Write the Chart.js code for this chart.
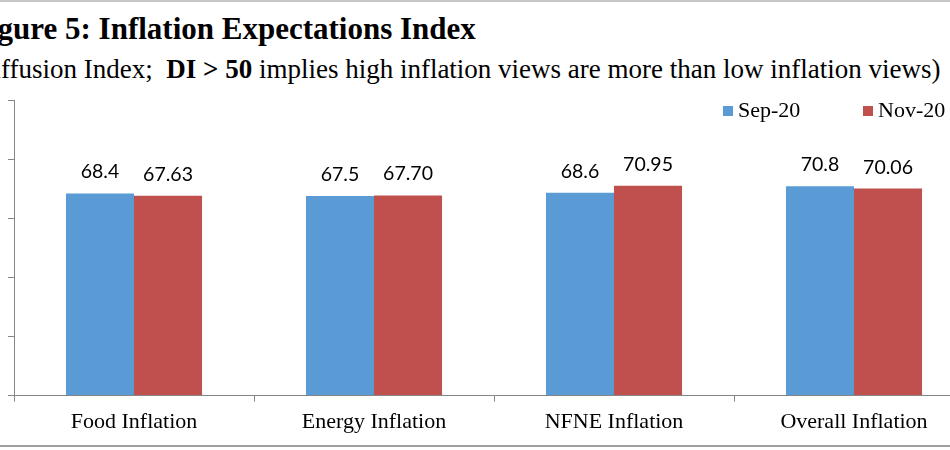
<!DOCTYPE html>
<html>
<head>
<meta charset="utf-8">
<script src="https://cdn.jsdelivr.net/npm/chart.js@4.4.1/dist/chart.umd.min.js"></script>
<style>
    html, body { margin: 0; padding: 0; background: #fff; overflow: hidden; }
    #wrap { position: relative; width: 950px; height: 450px; overflow: hidden; font-family: "Liberation Serif", serif; color: #000; }
    #topLine { position: absolute; left: 0; top: 0; width: 950px; height: 2px; background: #c8c8c8; }
    #bottomLine { position: absolute; left: 0; top: 445px; width: 950px; height: 2px; background: #a0a0a0; }
    #title { position: absolute; left: -30px; top: 11px; font-size: 31px; line-height: 36px; font-weight: bold; white-space: nowrap; }
    #subtitle { position: absolute; left: -35px; top: 53px; font-size: 27px; line-height: 32px; white-space: pre; }
    #holder { position: absolute; left: -30px; top: 3px; width: 1010px; height: 439px; }
</style>
</head>
<body>
<div id="wrap">
    <div id="topLine"></div>
    <div id="title">Figure 5: Inflation Expectations Index</div>
    <div id="subtitle">(Diffusion Index;  <b>DI &gt; 50</b> implies high inflation views are more than low inflation views)</div>
    <div id="holder"><canvas id="showOne"></canvas></div>
    <div id="bottomLine"></div>
</div>
<script>
// Figure 5 data
let categories = ["Food Inflation", "Energy Inflation", "NFNE Inflation", "Overall Inflation"];
let seriesNames = ["Sep-20", "Nov-20"];
let sepValues = [68.4, 67.5, 68.6, 70.8];
let novValues = [67.63, 67.70, 70.95, 70.06];
let labelDecimals = [1, 2];
let yTicks = [0, 20, 40, 60, 80, 100];

let colors = ['rgba(91,155,213,1)', 'rgba(192,80,77,1)'];
let axisGray = 'rgba(134,134,134,1)';

// value labels over each bar
let valueLabels = {
    id: 'valueLabels',
    afterDatasetsDraw(chart) {
        let ctx = chart.ctx;
        ctx.save();
        ctx.font = '19.5px Lato';
        ctx.fillStyle = '#000';
        ctx.textAlign = 'center';
        ctx.textBaseline = 'alphabetic';
        chart.data.datasets.forEach((ds, i) => {
            let meta = chart.getDatasetMeta(i);
            meta.data.forEach((bar, j) => {
                ctx.fillText(ds.data[j].toFixed(labelDecimals[i]), bar.x, bar.y - 15);
            });
        });
        ctx.restore();
    }
};

// legend sitting inside the plot, top right
let insideLegend = {
    id: 'insideLegend',
    afterDraw(chart) {
        let ctx = chart.ctx;
        let area = chart.chartArea;
        let x = area.right - 251;
        let y = area.top + 11;
        ctx.save();
        ctx.font = '22px "Liberation Serif"';
        ctx.textAlign = 'left';
        ctx.textBaseline = 'middle';
        chart.data.datasets.forEach((ds, i) => {
            ctx.fillStyle = ds.backgroundColor;
            ctx.fillRect(x, y - 5, 10, 10);
            ctx.fillStyle = '#000';
            ctx.fillText(ds.label, x + 15, y);
            x += 140;
        });
        ctx.restore();
    }
};

let ctx = document.getElementById('showOne');
let myChart = new Chart(ctx, {
    type: 'bar',
    data: {
        labels: categories,
        datasets: [{
            label: seriesNames[0],
            data: sepValues,
            backgroundColor: colors[0],
            borderWidth: 0
        }, {
            label: seriesNames[1],
            data: novValues,
            backgroundColor: colors[1],
            borderWidth: 0
        }]
    },
    options: {
        responsive: true,
        maintainAspectRatio: false,
        animation: false,
        categoryPercentage: 0.567,
        barPercentage: 1.0,
        layout: { padding: { left: 0, right: 6, top: 97, bottom: 0 } },
        plugins: {
            legend: { display: false },
            tooltip: { enabled: false }
        },
        scales: {
            x: {
                grid: { offset: true, drawOnChartArea: false, drawTicks: true, tickLength: 6, color: axisGray },
                border: { display: true, color: axisGray, width: 1 },
                ticks: {
                    color: '#000',
                    padding: 7,
                    font: { family: '"Liberation Serif"', size: 22 }
                }
            },
            y: {
                min: yTicks[0],
                max: yTicks[yTicks.length - 1],
                afterBuildTicks: function (scale) {
                    scale.ticks = yTicks.map(v => ({ value: v }));
                },
                afterFit: function (scale) {
                    scale.width = 44;
                },
                grid: { drawOnChartArea: false, drawTicks: true, tickLength: 6, color: axisGray },
                border: { display: true, color: axisGray, width: 1 },
                ticks: { display: false }
            }
        }
    },
    plugins: [valueLabels, insideLegend]
});
</script>
</body>
</html>
